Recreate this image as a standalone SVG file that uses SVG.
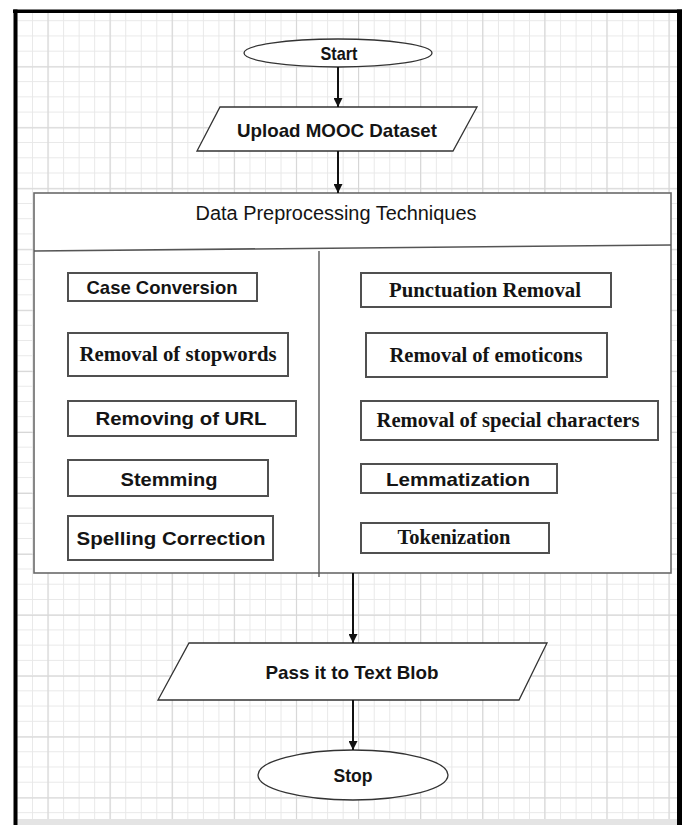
<svg xmlns="http://www.w3.org/2000/svg" width="687" height="825" viewBox="0 0 687 825">
<defs>
<pattern id="gridMinor" patternUnits="userSpaceOnUse" x="1" y="5" width="15.53" height="15.23">
<path d="M0.5 0 V15.23 M0 0.5 H15.53" fill="none" stroke="#e8e8e8" stroke-width="1"/>
</pattern>
<pattern id="gridMajor" patternUnits="userSpaceOnUse" x="47.5" y="66.5" width="62.1" height="60.92">
<path d="M0.5 0 V60.92 M0 0.5 H62.1" fill="none" stroke="#d6d6d6" stroke-width="1.2"/>
</pattern>
<marker id="arrow" viewBox="0 0 10 10" refX="10" refY="5" markerWidth="9" markerHeight="9" markerUnits="userSpaceOnUse" orient="auto">
<path d="M0 0 L10 5 L0 10 Z" fill="#111"/>
</marker>
</defs>
<style>
.shape{fill:#fff;stroke:#333;stroke-width:1.3}
.box{fill:#fff;stroke:#505050;stroke-width:2}
.frame{fill:#fff;stroke:#6a6a6a;stroke-width:1.6}
.sans{font-family:"Liberation Sans",Arial,sans-serif;font-weight:bold;font-size:19px;fill:#141414;text-anchor:middle}
.title{font-family:"Liberation Sans",Arial,sans-serif;font-size:20px;fill:#141414;text-anchor:middle}
.serif{font-family:"Liberation Serif","Times New Roman",serif;font-weight:bold;font-size:20px;fill:#141414;text-anchor:middle}
.conn{stroke:#111;stroke-width:2;fill:none}
</style>
<rect x="0" y="0" width="687" height="825" fill="#fff"/>
<g id="background">
<rect x="17" y="12" width="660" height="807" fill="url(#gridMinor)"/>
<rect x="17" y="12" width="660" height="807" fill="url(#gridMajor)"/>
<rect x="17" y="819" width="660" height="6" fill="#e4e4e4"/>
<rect x="13" y="9.5" width="669" height="3.5" fill="#000"/>
<rect x="13.5" y="9.5" width="4" height="815.5" fill="#000"/>
<rect x="677" y="9.5" width="5" height="815.5" fill="#000"/>
</g>
<g id="start">
<ellipse class="shape" cx="338" cy="53" rx="94" ry="14"/>
<text class="sans" x="339" y="60" textLength="37" lengthAdjust="spacingAndGlyphs">Start</text>
</g>
<g id="upload">
<polygon class="shape" points="220,107 477,107 453,151 197,151"/>
<text class="sans" x="337" y="137" textLength="200" lengthAdjust="spacingAndGlyphs">Upload MOOC Dataset</text>
</g>
<g id="preprocessing">
<rect class="frame" x="34" y="193" width="637" height="380"/>
<line x1="34" y1="251" x2="671" y2="245" stroke="#555" stroke-width="1.6"/>
<line x1="319" y1="251" x2="319" y2="577" stroke="#555" stroke-width="1.4"/>
<text class="title" x="336" y="220" textLength="281" lengthAdjust="spacingAndGlyphs">Data Preprocessing Techniques</text>
</g>
<g id="case-conversion">
<rect class="box" x="68" y="273" width="189" height="28"/>
<text class="sans" x="162" y="294" textLength="151" lengthAdjust="spacingAndGlyphs">Case Conversion</text>
</g>
<g id="removal-stopwords">
<rect class="box" x="68" y="333" width="220" height="43"/>
<text class="serif" x="178" y="361" textLength="197" lengthAdjust="spacingAndGlyphs">Removal of stopwords</text>
</g>
<g id="removing-url">
<rect class="box" x="68" y="401" width="228" height="35"/>
<text class="sans" x="181" y="425" textLength="171" lengthAdjust="spacingAndGlyphs">Removing of URL</text>
</g>
<g id="stemming">
<rect class="box" x="68" y="460" width="200" height="36"/>
<text class="sans" x="169" y="486" textLength="97" lengthAdjust="spacingAndGlyphs">Stemming</text>
</g>
<g id="spelling-correction">
<rect class="box" x="68" y="516" width="205" height="44"/>
<text class="sans" x="171" y="545" textLength="189" lengthAdjust="spacingAndGlyphs">Spelling Correction</text>
</g>
<g id="punctuation-removal">
<rect class="box" x="361" y="273" width="250" height="34"/>
<text class="serif" x="485" y="297" textLength="192" lengthAdjust="spacingAndGlyphs">Punctuation Removal</text>
</g>
<g id="removal-emoticons">
<rect class="box" x="366" y="333" width="241" height="44"/>
<text class="serif" x="486" y="362" textLength="193" lengthAdjust="spacingAndGlyphs">Removal of emoticons</text>
</g>
<g id="removal-special">
<rect class="box" x="361" y="401" width="297" height="39"/>
<text class="serif" x="508" y="427" textLength="263" lengthAdjust="spacingAndGlyphs">Removal of special characters</text>
</g>
<g id="lemmatization">
<rect class="box" x="361" y="464" width="196" height="29"/>
<text class="sans" x="458" y="486" textLength="144" lengthAdjust="spacingAndGlyphs">Lemmatization</text>
</g>
<g id="tokenization">
<rect class="box" x="361" y="523" width="188" height="30"/>
<text class="serif" x="454" y="544" textLength="113" lengthAdjust="spacingAndGlyphs">Tokenization</text>
</g>
<g id="pass-textblob">
<polygon class="shape" points="189,643 547,643 519,700 158,700"/>
<text class="sans" x="352" y="679" textLength="173" lengthAdjust="spacingAndGlyphs">Pass it to Text Blob</text>
</g>
<g id="stop">
<ellipse class="shape" cx="353" cy="775" rx="95" ry="25"/>
<text class="sans" x="353" y="782" textLength="39" lengthAdjust="spacingAndGlyphs">Stop</text>
</g>
<g id="connectors">
<line class="conn" x1="338" y1="67" x2="338" y2="107" marker-end="url(#arrow)"/>
<line class="conn" x1="338" y1="151" x2="338" y2="193" marker-end="url(#arrow)"/>
<line class="conn" x1="353" y1="573" x2="353" y2="643" marker-end="url(#arrow)"/>
<line class="conn" x1="353" y1="700" x2="353" y2="750" marker-end="url(#arrow)"/>
</g>
</svg>
